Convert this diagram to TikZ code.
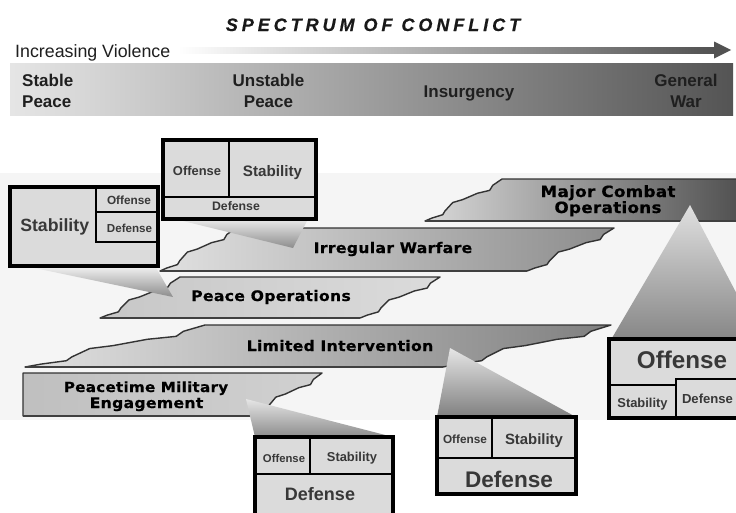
\documentclass[tikz,border=0pt]{standalone}
\usepackage{fontspec}
\setmainfont{Liberation Sans}
\newfontfamily\bandfont[LetterSpace=2,FakeStretch=1.08,FakeBold=0.6]{DejaVu Sans}
\newfontfamily\titlefont[LetterSpace=22,FakeBold=0.5]{Liberation Sans}
\usetikzlibrary{calc}

\newcommand\jagup[4]{%
  \foreach \fx/\fy in {0.09/0.07,0.23/0.15,0.26/0.24,0.36/0.44,0.49/0.51,0.68/0.66,0.84/0.73,0.88/0.85}%
    { -- ({#1+\fx*(#3-#1)},{#2+\fy*(#4-#2)}) } -- (#3,#4)}
\newcommand\jagdown[4]{%
  \foreach \fx/\fy in {0.12/0.15,0.16/0.27,0.32/0.34,0.51/0.49,0.64/0.56,0.74/0.76,0.77/0.85,0.91/0.93}%
    { -- ({#1+\fx*(#3-#1)},{#2+\fy*(#4-#2)}) } -- (#3,#4)}
\newcommand\celltext[5]{%
  \node[celltxt, font=\fontsize{#4}{#4}\selectfont\bfseries] (#1) at (#2,{#3+0.358*#4}) {#5};}

\tikzset{
  lbl/.style={inner sep=0pt, anchor=base},
  toplbl/.style={inner sep=0pt, anchor=base, text=black!88, font=\fontsize{17}{20}\selectfont\bfseries},
  bandlbl/.style={inner sep=0pt, anchor=base, text=black, font=\bandfont\fontsize{14.5}{16}\selectfont\bfseries},
  celltxt/.style={inner sep=0pt, anchor=base, text=black!78},
  band/.style={draw=black!80, line width=1.4pt, line join=round},
  bandbottom/.style={draw=black!75, line width=2.2pt},
  cellfill/.style={fill=black!14},
  outer/.style={draw=black, line width=3.2pt},
  divider/.style={draw=black, line width=2.8pt},
}

\begin{document}
\begin{tikzpicture}[x=1pt,y=-1pt]
\useasboundingbox (0,0) rectangle (736,512);
\clip (0,0) rectangle (736,512);
\fill[white] (0,0) rectangle (736,512);
\fill[black!4] (0,173) rectangle (736,420);

% title and arrow
\node[lbl, text=black!90, font={\titlefont\fontsize{18}{20}\selectfont\bfseries\itshape}] (title) at (373,31) {SPECTRUM OF CONFLICT};
\node[lbl, anchor=base west, text=black!88, font=\fontsize{17.8}{20}\selectfont] (incv) at (15,57) {Increasing Violence};
\coordinate (shaftS) at (178,47);
\coordinate (shaftE) at (715,53);
\shade[left color=white, right color=black!68] (shaftS) rectangle (shaftE);
\coordinate (headA) at (714,41.5);
\coordinate (headTip) at (731,50);
\coordinate (headB) at (714,58.5);
\fill[black!68] (headA) -- (headTip) -- (headB) -- cycle;

% spectrum band
\shade[left color=black!10, right color=black!67] (10,63) rectangle (733,115);
\node[toplbl, anchor=base west] (st1) at (22,86) {Stable};
\node[toplbl, anchor=base west] (st2) at (22,107) {Peace};
\node[toplbl] (un1) at (268.5,86) {Unstable};
\node[toplbl] (un2) at (268.5,107) {Peace};
\node[toplbl] (ins) at (469,97) {Insurgency};
\node[toplbl] (gw1) at (686,86) {General};
\node[toplbl] (gw2) at (686,107) {War};

% operation bands
\path[band, left color=black!15, right color=black!70] (425,221) \jagup{425}{221}{502}{179} -- (750,179) -- (750,221) -- cycle;
\draw[bandbottom] (425,221) -- (750,221);
\path[band, left color=black!12, right color=black!45] (160,271) \jagup{160}{271}{236}{228} -- (614,228) \jagdown{614}{228}{527}{271} -- cycle;
\draw[bandbottom] (160,271) -- (527,271);
\path[band, left color=black!22, right color=black!14] (100,318) \jagup{100}{318}{180}{277} -- (440,277) \jagdown{440}{277}{360}{318} -- cycle;
\draw[bandbottom] (100,318) -- (360,318);
\path[band, left color=black!12, right color=black!50] (25,367) \jagup{25}{367}{205}{325} -- (611,325) \jagdown{611}{325}{443}{367} -- cycle;
\draw[bandbottom] (25,367) -- (443,367);
\path[band, left color=black!25, right color=black!18] (23,416) -- (23,373) -- (322,373) \jagdown{322}{373}{250}{416} -- cycle;
\draw[bandbottom] (23,416) -- (250,416);

\node[bandlbl, font=\bandfont\fontsize{15.5}{16}\selectfont\bfseries] (mco1) at (608,197) {Major Combat};
\node[bandlbl, font=\bandfont\fontsize{15.5}{16}\selectfont\bfseries] (mco2) at (608,213) {Operations};
\node[bandlbl] (iw) at (393,253) {Irregular Warfare};
\node[bandlbl] (po) at (271,301) {Peace Operations};
\node[bandlbl] (li) at (340,351) {Limited Intervention};
\node[bandlbl, font=\bandfont\fontsize{14}{16}\selectfont\bfseries] (pme1) at (146,392) {Peacetime Military};
\node[bandlbl, font=\bandfont\fontsize{14.5}{16}\selectfont\bfseries] (pme2) at (146.5,408) {Engagement};

% wedges
\shade[top color=black!12, bottom color=black!47] (690,205) -- (612,338) -- (760,338) -- cycle;
\shade[top color=black!10, bottom color=black!50] (450,348) -- (437,417) -- (576,417) -- cycle;
\shade[top color=black!10, bottom color=black!45] (246,399) -- (255,437) -- (393,437) -- cycle;
\shade[top color=black!8, bottom color=black!45] (175,219) -- (308,219) -- (293,248) -- cycle;
\shade[top color=black!5, bottom color=black!45] (25,266) -- (155,266) -- (173,297) -- cycle;

% box A
\fill[cellfill] (163,140) rectangle (316,219);
\draw[divider] (163,197) -- (316,197);
\draw[divider] (229,140) -- (229,197);
\draw[outer] (163,140) rectangle (316,219);
\celltext{aO}{197}{170.4}{12.9}{Offense}
\celltext{aS}{272.5}{171}{15.2}{Stability}
\celltext{aD}{236}{206.3}{12.3}{Defense}

% box B
\fill[cellfill] (10,187) rectangle (158,266);
\draw[divider] (96,187) -- (96,242) -- (158,242);
\draw[divider] (96,212) -- (158,212);
\draw[outer] (10,187) rectangle (158,266);
\celltext{bS}{54.7}{225.3}{17.7}{Stability}
\celltext{bO}{129}{200}{11.8}{Offense}
\celltext{bD}{129.5}{228.5}{11.6}{Defense}

% box C
\fill[cellfill] (255,437) rectangle (393,530);
\draw[divider] (255,474) -- (393,474);
\draw[divider] (310,437) -- (310,474);
\draw[outer] (255,437) rectangle (393,530);
\celltext{cO}{284}{458}{11.3}{Offense}
\celltext{cS}{352}{457}{12.9}{Stability}
\celltext{cD}{320}{494}{18}{Defense}

% box D
\fill[cellfill] (437,417) rectangle (576,494);
\draw[divider] (437,458) -- (576,458);
\draw[divider] (492,417) -- (492,458);
\draw[outer] (437,417) rectangle (576,494);
\celltext{dO}{465}{439}{11.8}{Offense}
\celltext{dS}{534}{439}{14.9}{Stability}
\celltext{dD}{509}{479}{22.6}{Defense}

% box E
\fill[cellfill] (609,339) rectangle (750,418);
\draw[divider] (609,385) -- (676,385);
\draw[divider] (676,418) -- (676,379) -- (750,379);
\draw[outer] (609,339) rectangle (750,418);
\celltext{eO}{682}{360}{24.2}{Offense}
\celltext{eS}{642.5}{403}{12.9}{Stability}
\celltext{eD}{707.5}{399}{13.1}{Defense}
\end{tikzpicture}
\end{document}
